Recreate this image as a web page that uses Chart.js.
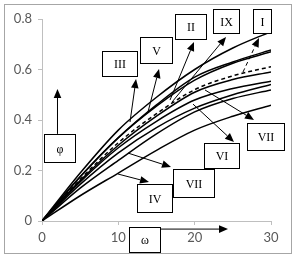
<!DOCTYPE html>
<html><head><meta charset="utf-8">
<script src="https://cdn.jsdelivr.net/npm/chart.js@4.4.1/dist/chart.umd.min.js"></script>
<style>html,body{margin:0;padding:0;background:#fff}canvas{display:block}</style>
</head><body>
<canvas id="c" width="296" height="259"></canvas>
<script>
const omega = [0, 5, 10, 15, 20, 25, 30];
const curveA  = [0, 0.19, 0.36, 0.49, 0.60, 0.685, 0.75];
const curveB1 = [0, 0.175, 0.33, 0.46, 0.57, 0.63, 0.677];
const curveB2 = [0, 0.175, 0.33, 0.455, 0.558, 0.625, 0.67];
const curveC  = [0, 0.165, 0.31, 0.425, 0.52, 0.575, 0.611];
const curveD  = [0, 0.16, 0.30, 0.415, 0.51, 0.56, 0.59];
const curveE  = [0, 0.155, 0.29, 0.395, 0.479, 0.525, 0.554];
const curveF  = [0, 0.145, 0.27, 0.37, 0.447, 0.50, 0.541];
const curveG  = [0, 0.13, 0.24, 0.345, 0.432, 0.485, 0.519];
const curveH  = [0, 0.10, 0.19, 0.28, 0.36, 0.415, 0.459];
const xTicks = ['0', '10', '20', '30'];
const yTicks = ['0', '0.2', '0.4', '0.6', '0.8'];

// annotation labels (data coords of box centre) and arrows (data coords)
const labelText = ['III', 'V', 'II', 'IX', 'I', 'VII', 'VI', 'VII', 'IV', 'φ', 'ω'];
const labelX = [10.15, 14.94, 19.46, 24.04, 28.82, 29.28, 23.52, 19.85, 14.74, 2.29, 13.43];
const labelY = [0.624, 0.677, 0.770, 0.792, 0.792, 0.334, 0.259, 0.150, 0.091, 0.289, -0.0733];
const arrowX0 = [11.53, 13.89, 16.77, 17.03, 26.33, 21.35, 19.78, 11.27, 9.96, 2.03, 15.46];
const arrowY0 = [0.392, 0.432, 0.479, 0.471, 0.590, 0.519, 0.463, 0.269, 0.186, 0.345, -0.032];
const arrowX1 = [12.32, 15.33, 19.91, 24.11, 28.43, 27.77, 25.15, 16.9, 14.02, 2.03, 24.37];
const arrowY1 = [0.562, 0.602, 0.709, 0.729, 0.725, 0.40, 0.313, 0.214, 0.154, 0.523, -0.032];

const boxW = [35, 32, 31, 26, 18, 37, 35, 41, 35, 31, 31];
const boxH = [25, 26, 25, 24, 24, 27, 25, 28, 28, 28, 25];
const arrowDashed = [false, false, false, false, true, false, false, false, false, false, false];

function mk(data, dashed) {
  return {
    data: omega.map((x, i) => ({x: x, y: data[i]})),
    borderColor: '#000', borderWidth: 1.5, pointRadius: 0,
    cubicInterpolationMode: 'monotone', fill: false,
    borderDash: dashed ? [4, 3] : []
  };
}

const frame = {
  id: 'frame',
  beforeDraw(chart) {
    const c = chart.ctx;
    c.save();
    c.fillStyle = '#fff';
    c.fillRect(0, 0, chart.width, chart.height);
    c.strokeStyle = '#a6a6a6';
    c.lineWidth = 1;
    c.strokeRect(4.5, 4.5, 287, 249);
    c.restore();
  }
};

const notes = {
  id: 'notes',
  afterDraw(chart) {
    const c = chart.ctx, xs = chart.scales.x, ys = chart.scales.y;
    c.save();
    for (let i = 0; i < labelText.length; i++) {
      const x0 = xs.getPixelForValue(arrowX0[i]), y0 = ys.getPixelForValue(arrowY0[i]);
      const x1 = xs.getPixelForValue(arrowX1[i]), y1 = ys.getPixelForValue(arrowY1[i]);
      const a = Math.atan2(y1 - y0, x1 - x0);
      const L = 9, W = 3.8;
      const bx = x1 - L * Math.cos(a), by = y1 - L * Math.sin(a);
      c.strokeStyle = '#000'; c.fillStyle = '#000'; c.lineWidth = 1;
      c.setLineDash(arrowDashed[i] ? [4, 3] : []);
      c.beginPath(); c.moveTo(x0, y0); c.lineTo(bx, by); c.stroke();
      c.setLineDash([]);
      c.beginPath();
      c.moveTo(x1, y1);
      c.lineTo(bx + W * Math.sin(a), by - W * Math.cos(a));
      c.lineTo(bx - W * Math.sin(a), by + W * Math.cos(a));
      c.closePath(); c.fill();
    }
    for (let i = 0; i < labelText.length; i++) {
      const cx = xs.getPixelForValue(labelX[i]), cy = ys.getPixelForValue(labelY[i]);
      const w = boxW[i], h = boxH[i];
      const l = Math.round(cx - w / 2) + 0.5, t = Math.round(cy - h / 2) + 0.5;
      c.fillStyle = '#fff';
      c.fillRect(l, t, w, h);
      c.strokeStyle = '#000'; c.lineWidth = 1;
      c.strokeRect(l, t, w, h);
      c.fillStyle = '#000';
      c.font = '12px "Liberation Serif", serif';
      c.textAlign = 'center'; c.textBaseline = 'middle';
      c.fillText(labelText[i], l + w / 2, t + h / 2 + 1);
    }
    c.restore();
  }
};

new Chart(document.getElementById('c'), {
  type: 'line',
  data: {
    datasets: [mk(curveA), mk(curveB1), mk(curveB2), mk(curveC, true), mk(curveD),
               mk(curveE), mk(curveF), mk(curveG), mk(curveH)]
  },
  options: {
    responsive: false, animation: false, devicePixelRatio: 1,
    layout: {padding: {left: 0, top: 19, right: 25, bottom: 0}},
    plugins: {legend: {display: false}, tooltip: {enabled: false}},
    scales: {
      x: {
        type: 'linear', min: 0, max: 30,
        afterFit(s) { s.height = 38; },
        grid: {display: true, drawOnChartArea: false, drawTicks: true, tickLength: 4, color: '#bfbfbf'},
        border: {color: '#bfbfbf'},
        ticks: {stepSize: 10, color: '#595959', padding: 5, maxRotation: 0,
                font: {family: 'Lato, "Liberation Sans", sans-serif', size: 13},
                callback: (v) => xTicks[Math.round(v / 10)]}
      },
      y: {
        min: 0, max: 0.8,
        afterFit(s) { s.width = 42; },
        grid: {display: true, drawOnChartArea: false, drawTicks: true, tickLength: 4, color: '#bfbfbf'},
        border: {color: '#bfbfbf'},
        ticks: {stepSize: 0.2, color: '#595959', padding: 6,
                font: {family: 'Lato, "Liberation Sans", sans-serif', size: 13},
                callback: (v) => yTicks[Math.round(v / 0.2)]}
      }
    }
  },
  plugins: [frame, notes]
});
</script>
</body></html>
